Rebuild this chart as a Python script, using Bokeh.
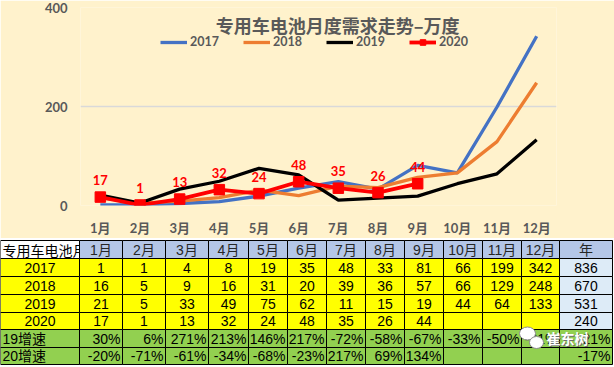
from bokeh.plotting import figure
from bokeh.models import FactorRange, Range1d, FixedTicker, Label, Legend, LegendItem, ColumnDataSource
from bokeh.embed import file_html
from bokeh.resources import INLINE
from bokeh.core.properties import value

# ---------------- data ----------------
months = ["1月", "2月", "3月", "4月", "5月", "6月", "7月", "8月", "9月", "10月", "11月", "12月"]
years = ["2017", "2018", "2019", "2020"]
v2017 = [1, 1, 4, 8, 19, 35, 48, 33, 81, 66, 199, 342]
v2018 = [16, 5, 9, 16, 31, 20, 39, 36, 57, 66, 129, 248]
v2019 = [21, 5, 33, 49, 75, 62, 11, 15, 19, 44, 64, 133]
v2020 = [17, 1, 13, 32, 24, 48, 35, 26, 44]
annual = [836, 670, 531, 240]
g19 = ["30%", "6%", "271%", "213%", "146%", "217%", "-72%", "-58%", "-67%", "-33%", "-50%", "-61%", "-21%"]
g20 = ["-20%", "-71%", "-61%", "-34%", "-68%", "-23%", "217%", "69%", "134%", "", "", "", "-17%"]
y_ticks = [0, 200, 400]
title_text = "专用车电池月度需求走势–万度"
table_corner = "专用车电池月度需求"
row_labels = years + ["19增速", "20增速"]

# ---------------- styles ----------------
W = 614
CJK = "'Noto Sans CJK SC'"
LAT = "Lato, 'Noto Sans CJK SC'"
ARI = "'Liberation Sans', 'Noto Sans CJK SC'"
GRAY = "#595959"
BG = "#FFF2CC"

# ---------------- chart ----------------
p = figure(width=W, height=238, x_range=FactorRange(*months), y_range=Range1d(0, 400),
           output_backend="svg", toolbar_location=None,
           min_border_left=80, min_border_right=58, min_border_top=7, min_border_bottom=27,
           background_fill_color=BG, border_fill_color=BG, outline_line_color=None)

p.yaxis.ticker = FixedTicker(ticks=y_ticks)
for ax in (p.xaxis[0], p.yaxis[0]):
    ax.axis_line_color = None
    ax.major_tick_line_color = None
    ax.minor_tick_line_color = None
    ax.major_label_text_font = LAT
    ax.major_label_text_font_style = "bold"
    ax.major_label_text_font_size = "13px"
    ax.major_label_text_color = GRAY
p.yaxis.major_label_standoff = 7
p.xaxis.major_label_standoff = 8
p.xgrid.grid_line_color = None
p.ygrid.grid_line_color = "#D9D9D9"
p.ygrid.grid_line_width = 1.5

r17 = p.line(months, v2017, line_color="#4472C4", line_width=3.3)
r18 = p.line(months, v2018, line_color="#ED7D31", line_width=3.3)
r19 = p.line(months, v2019, line_color="#000000", line_width=3.3)
r20 = p.line(months[:len(v2020)], v2020, line_color="#FF0000", line_width=3.8)
r20m = p.scatter(months[:len(v2020)], v2020, marker="square", size=10.5,
                 fill_color="#FF0000", line_color="#FF0000")

lab = ColumnDataSource(dict(x=months[:len(v2020)], y=v2020, t=[str(v) for v in v2020]))
p.text(x="x", y="y", text="t", source=lab, y_offset=-17, text_align="center",
       text_baseline="middle", text_color="#FF0000", text_font=value(LAT),
       text_font_style="bold", text_font_size="13px")

p.add_layout(Label(x=6.48, y=364.7, text=title_text, text_align="center", text_baseline="middle",
                   text_font=CJK, text_font_style="bold", text_font_size="18px", text_color=GRAY))

legend = Legend(items=[LegendItem(label="2017", renderers=[r17]),
                       LegendItem(label="2018", renderers=[r18]),
                       LegendItem(label="2019", renderers=[r19]),
                       LegendItem(label="2020", renderers=[r20, r20m])],
                orientation="horizontal", location=(80, 156), padding=0, margin=0,
                spacing=24, glyph_width=27, glyph_height=14, label_height=14, label_width=26,
                label_standoff=3, border_line_color=None, background_fill_alpha=0,
                label_text_font=LAT, label_text_font_style="bold", label_text_font_size="12.5px",
                label_text_color=GRAY)
p.add_layout(legend)

# ---------------- table ----------------
col_edges = [0, 79, 122, 165, 208, 248, 287, 326, 365, 404, 443, 482, 521, 559, 612]
row_edges = [2, 20, 38, 56, 74, 91, 109, 126]

t = figure(width=W, height=129, x_range=Range1d(0, W), y_range=Range1d(129, 0),
           output_backend="svg", toolbar_location=None, min_border=0,
           x_axis_location=None, y_axis_location=None,
           background_fill_color="white", border_fill_color="white", outline_line_color=None)
t.grid.visible = False

def cell_color(r, c):
    if r == 0:
        return "white" if c == 0 else "#B4C6E7"
    if r <= 4:
        return "#DDEBF7" if c == 13 else "#FFFF00"
    return "#92D050"

# corner cell first, then its overflowing text, then the other cells cover the overflow
t.quad(left=[col_edges[0]], right=[col_edges[1]], top=[row_edges[0]], bottom=[row_edges[1]],
       fill_color="white", line_color="black", line_width=1)
t.text(x=[2], y=[(row_edges[0] + row_edges[1]) / 2], text=[table_corner], text_align="left",
       text_baseline="middle", text_font=value(CJK), text_font_size="14px", text_color="black")

L, R, T, B, C = [], [], [], [], []
for r in range(len(row_edges) - 1):
    for c in range(len(col_edges) - 1):
        if r == 0 and c == 0:
            continue
        L.append(col_edges[c]); R.append(col_edges[c + 1])
        T.append(row_edges[r]); B.append(row_edges[r + 1]); C.append(cell_color(r, c))
t.quad(left=L, right=R, top=T, bottom=B, fill_color=C, line_color="black", line_width=1)

def ymid(r):
    return (row_edges[r] + row_edges[r + 1]) / 2

def xmid(c):
    return (col_edges[c] + col_edges[c + 1]) / 2

# header
hx = [xmid(c) for c in range(1, 14)]
t.text(x=hx, y=[ymid(0)] * 13, text=months + ["年"], text_align="center", text_baseline="middle",
       text_font=value(ARI), text_font_size="14px", text_color="#262626")

# year rows (centered)
cx, cy, ct = [], [], []
series = [v2017, v2018, v2019, v2020]
for i, s in enumerate(series):
    r = i + 1
    cx.append(xmid(0)); cy.append(ymid(r)); ct.append(years[i])
    for c, v in enumerate(s):
        cx.append(xmid(c + 1)); cy.append(ymid(r)); ct.append(str(v))
    cx.append(xmid(13)); cy.append(ymid(r)); ct.append(str(annual[i]))
t.text(x=cx, y=cy, text=ct, text_align="center", text_baseline="middle",
       text_font=value(ARI), text_font_size="14px", text_color="black")

# growth rows
t.text(x=[2, 2], y=[ymid(5), ymid(6)], text=row_labels[4:], text_align="left", text_baseline="middle",
       text_font=value(ARI), text_font_size="14px", text_color="black")
gx, gy, gt = [], [], []
for r, g in ((5, g19), (6, g20)):
    for c, s in enumerate(g):
        gx.append(col_edges[c + 2] - 2); gy.append(ymid(r)); gt.append(s)
t.text(x=gx, y=gy, text=gt, text_align="right", text_baseline="middle",
       text_font=value(ARI), text_font_size="14px", text_color="black")

# watermark
t.ellipse(x=[527, 536], y=[95, 104], width=[16, 14], height=[13, 12],
          fill_color="white", line_color="#8C8C8C", line_width=1)
t.text(x=[547], y=[100], text=["崔东树"], text_align="left", text_baseline="middle",
       text_font=value(CJK), text_font_style="bold", text_font_size="14px", text_color="#6E6E6E")
t.text(x=[546], y=[99], text=["崔东树"], text_align="left", text_baseline="middle",
       text_font=value(CJK), text_font_style="bold", text_font_size="14px", text_color="white")

open("out.html", "w").write(file_html([p, t], INLINE))
